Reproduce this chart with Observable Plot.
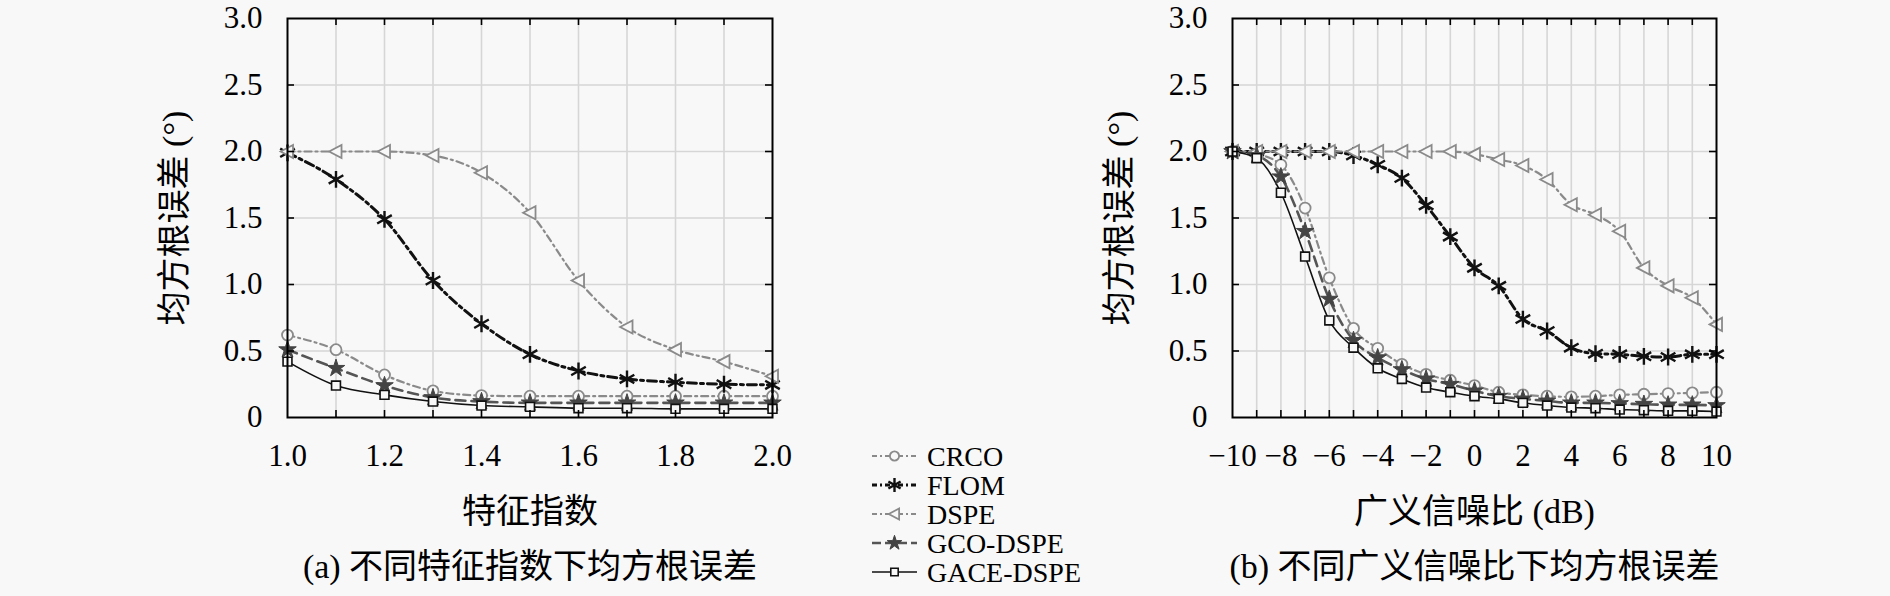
<!DOCTYPE html>
<html>
<head>
<meta charset="utf-8">
<script src="https://cdn.jsdelivr.net/npm/d3@7"></script>
<script src="https://cdn.jsdelivr.net/npm/@observablehq/plot@0.6"></script>
<style>
  html, body { margin: 0; padding: 0; background: #f8f8f8; }
  #root { position: relative; width: 1890px; height: 596px; background: #f8f8f8; overflow: hidden; }
  #root > svg { position: absolute; top: 0; margin: 0; }
</style>
</head>
<body>
<div id="root"></div>
<script>
// ---------- data ----------
const seriesNames = ["CRCO", "FLOM", "DSPE", "GCO-DSPE", "GACE-DSPE"];

// (a) characteristic exponent
const alphaX = [1.0, 1.1, 1.2, 1.3, 1.4, 1.5, 1.6, 1.7, 1.8, 1.9, 2.0];
const crcoA = [0.62, 0.51, 0.32, 0.20, 0.165, 0.16, 0.16, 0.16, 0.16, 0.16, 0.16];
const flomA = [1.99, 1.79, 1.49, 1.03, 0.705, 0.475, 0.35, 0.29, 0.265, 0.25, 0.245];
const dspeA = [2.0, 2.0, 2.0, 1.97, 1.84, 1.54, 1.03, 0.68, 0.51, 0.42, 0.31];
const gcoA  = [0.51, 0.37, 0.24, 0.15, 0.12, 0.11, 0.11, 0.11, 0.11, 0.11, 0.11];
const gaceA = [0.42, 0.24, 0.17, 0.12, 0.09, 0.08, 0.07, 0.07, 0.065, 0.065, 0.065];

// (b) generalized SNR (dB)
const snrX = [-10, -9, -8, -7, -6, -5, -4, -3, -2, -1, 0, 1, 2, 3, 4, 5, 6, 7, 8, 9, 10];
const crcoB = [2.0, 1.98, 1.9, 1.575, 1.05, 0.67, 0.52, 0.40, 0.325, 0.28, 0.24, 0.19, 0.17, 0.16, 0.155, 0.16, 0.17, 0.175, 0.18, 0.185, 0.19];
const flomB = [2.0, 2.0, 2.0, 2.0, 2.0, 1.97, 1.9, 1.8, 1.595, 1.36, 1.125, 0.99, 0.74, 0.65, 0.525, 0.48, 0.475, 0.46, 0.455, 0.475, 0.475];
const dspeB = [2.0, 2.0, 2.0, 2.0, 2.0, 2.0, 2.0, 2.0, 2.0, 2.0, 1.98, 1.94, 1.895, 1.79, 1.6, 1.525, 1.4, 1.125, 0.99, 0.9, 0.70];
const gcoB  = [2.0, 1.97, 1.81, 1.4, 0.89, 0.58, 0.45, 0.36, 0.29, 0.25, 0.2, 0.16, 0.14, 0.125, 0.11, 0.11, 0.105, 0.1, 0.095, 0.095, 0.09];
const gaceB = [2.0, 1.95, 1.69, 1.21, 0.73, 0.525, 0.37, 0.29, 0.225, 0.19, 0.16, 0.14, 0.11, 0.09, 0.075, 0.07, 0.06, 0.055, 0.05, 0.05, 0.045];

// ticks / labels
const yTicks = [0, 0.5, 1.0, 1.5, 2.0, 2.5, 3.0];
const alphaTicks = [1.0, 1.2, 1.4, 1.6, 1.8, 2.0];
const snrTicks = [-10, -8, -6, -4, -2, 0, 2, 4, 6, 8, 10];
const yTitle = "均方根误差 (°)";
const xTitleA = "特征指数";
const xTitleB = "广义信噪比 (dB)";
const captionA = "(a) 不同特征指数下均方根误差";
const captionB = "(b) 不同广义信噪比下均方根误差";

// ---------- styles ----------
const FONT = "'Liberation Serif', 'Noto Sans CJK SC', serif";
const GRAY = "#8a8a8a";
const BG = "#f8f8f8";
const triLeft = {
  draw(ctx, size) {
    const r = Math.sqrt(size / Math.PI) * 1.15;
    ctx.moveTo(-r, 0);
    ctx.lineTo(r * 0.8, -r * 0.95);
    ctx.lineTo(r * 0.8, r * 0.95);
    ctx.closePath();
  }
};
const styles = {
  "CRCO":      {stroke: GRAY, strokeWidth: 2.2, dash: "7,4,2,4", legDash: "5,3,2,3", symbol: "circle", r: 5.5, fill: BG, mstroke: GRAY, mw: 1.8},
  "FLOM":      {stroke: "#111", strokeWidth: 3, dash: "9,4,3,4", legDash: "5,3,2,3", symbol: "asterisk", r: 8, fill: "none", mstroke: "#111", mw: 2.4},
  "DSPE":      {stroke: GRAY, strokeWidth: 2.2, dash: "7,4,2,4", legDash: "5,3,2,3", symbol: triLeft, r: 6, fill: BG, mstroke: GRAY, mw: 1.8},
  "GCO-DSPE":  {stroke: "#555", strokeWidth: 2.6, dash: "10,6", legDash: "9,4", symbol: "star", r: 5.5, fill: "#444", mstroke: "#444", mw: 1},
  "GACE-DSPE": {stroke: "#111", strokeWidth: 1.6, dash: null, legDash: null, symbol: "square", r: 5, fill: BG, mstroke: "#111", mw: 1.6}
};

function rows(xs, arrays) {
  const out = [];
  seriesNames.forEach((s, i) => xs.forEach((x, j) => out.push({series: s, x, y: arrays[i][j]})));
  return out;
}

const fmtY = d => d === 0 ? "0" : d.toFixed(1);
const fmtSigned = d => d < 0 ? "\u2212" + Math.abs(d) : String(d);

function panel({xs, arrays, xDomain, xTicks, gridXs, tickFmt, frameLeft, frameRight, svgLeft, svgWidth, xTitle, caption}) {
  const top = 18, bottom = 417, H = 596;
  const data = rows(xs, arrays);
  const fw = frameRight - frameLeft, fh = bottom - top;
  const tlx = 7 * (xDomain[1] - xDomain[0]) / fw;   // inward tick length in x units
  const tly = 7 * 3 / fh;                           // inward tick length in y units
  const innerY = yTicks.filter(d => d > 0 && d < 3);
  const marks = [
    Plot.gridX(gridXs, {stroke: "#d6d6d6", strokeOpacity: 1, strokeWidth: 1.6}),
    Plot.gridY(innerY, {stroke: "#d6d6d6", strokeOpacity: 1, strokeWidth: 1.6})
  ];
  for (const s of seriesNames) {
    const st = styles[s];
    marks.push(Plot.line(data.filter(d => d.series === s), {
      x: "x", y: "y", stroke: st.stroke, strokeWidth: st.strokeWidth,
      strokeDasharray: st.dash, curve: "monotone-x"
    }));
  }
  for (const s of seriesNames) {
    const st = styles[s];
    marks.push(Plot.dot(data.filter(d => d.series === s), {
      x: "x", y: "y", symbol: st.symbol, r: st.r, fill: st.fill,
      stroke: st.mstroke, strokeWidth: st.mw
    }));
  }
  marks.push(
    Plot.frame({stroke: "black", strokeWidth: 2}),
    Plot.ruleX(gridXs, {x: d => d, y1: 0, y2: tly, stroke: "black", strokeWidth: 1.6}),
    Plot.ruleX(gridXs, {x: d => d, y1: 3 - tly, y2: 3, stroke: "black", strokeWidth: 1.6}),
    Plot.ruleY(innerY, {y: d => d, x1: xDomain[0], x2: xDomain[0] + tlx, stroke: "black", strokeWidth: 1.6}),
    Plot.ruleY(innerY, {y: d => d, x1: xDomain[1] - tlx, x2: xDomain[1], stroke: "black", strokeWidth: 1.6}),
    Plot.axisX({ticks: xTicks, tickSize: 0, tickPadding: 26, tickFormat: tickFmt, label: null, fontSize: 31}),
    Plot.axisY({ticks: yTicks, tickSize: 0, tickPadding: 25, tickFormat: fmtY, label: null, fontSize: 31}),
    Plot.text([xTitle], {text: d => d, frameAnchor: "bottom", dy: 95, fontSize: 34, textAnchor: "middle", lineAnchor: "middle"}),
    Plot.text([caption], {text: d => d, frameAnchor: "bottom", dy: 150, fontSize: 34, textAnchor: "middle", lineAnchor: "middle"}),
    Plot.text([yTitle], {text: d => d, frameAnchor: "left", dx: -112, rotate: -90, fontSize: 34, textAnchor: "middle", lineAnchor: "middle"})
  );
  const svg = Plot.plot({
    width: svgWidth, height: H,
    marginLeft: frameLeft - svgLeft, marginRight: svgLeft + svgWidth - frameRight,
    marginTop: top, marginBottom: H - bottom,
    x: {domain: xDomain}, y: {domain: [0, 3]},
    style: {background: "transparent", fontFamily: FONT, fontSize: "31px", color: "black", overflow: "visible"},
    marks
  });
  svg.style.left = svgLeft + "px";
  svg.style.position = "absolute";
  svg.style.top = "0px";
  svg.style.maxWidth = "none";
  return svg;
}

const root = document.getElementById("root");
root.appendChild(panel({
  xs: alphaX, arrays: [crcoA, flomA, dspeA, gcoA, gaceA],
  xDomain: [1, 2], xTicks: alphaTicks, gridXs: alphaX.slice(1, -1),
  tickFmt: d => d.toFixed(1),
  frameLeft: 287, frameRight: 772, svgLeft: 0, svgWidth: 820,
  xTitle: xTitleA, caption: captionA
}));
root.appendChild(panel({
  xs: snrX, arrays: [crcoB, flomB, dspeB, gcoB, gaceB],
  xDomain: [-10, 10], xTicks: snrTicks, gridXs: snrX.slice(1, -1),
  tickFmt: fmtSigned,
  frameLeft: 1232, frameRight: 1716, svgLeft: 1000, svgWidth: 860,
  xTitle: xTitleB, caption: captionB
}));

// ---------- legend ----------
const leg = d3.select(root).append("svg")
  .attr("width", 1890).attr("height", 596)
  .style("position", "absolute").style("left", "0px").style("top", "0px")
  .style("font-family", FONT).style("font-size", "28px");
const legX0 = 872, legX1 = 917, legText = 927, legY0 = 456, legDy = 29;
seriesNames.forEach((s, i) => {
  const st = styles[s];
  const y = legY0 + i * legDy;
  leg.append("line").attr("x1", legX0).attr("x2", legX1).attr("y1", y).attr("y2", y)
    .attr("stroke", st.stroke).attr("stroke-width", st.strokeWidth)
    .attr("stroke-dasharray", st.legDash);
  const sym = typeof st.symbol === "string"
    ? {circle: d3.symbolCircle, asterisk: d3.symbolAsterisk, star: d3.symbolStar, square: d3.symbolSquare}[st.symbol]
    : st.symbol;
  leg.append("path").attr("transform", `translate(${(legX0 + legX1) / 2},${y})`)
    .attr("d", d3.symbol(sym, Math.PI * st.r * st.r * 0.7)())
    .attr("fill", st.fill).attr("stroke", st.mstroke).attr("stroke-width", st.mw);
  leg.append("text").attr("x", legText).attr("y", y).attr("dy", "0.35em").text(s);
});
</script>
</body>
</html>
